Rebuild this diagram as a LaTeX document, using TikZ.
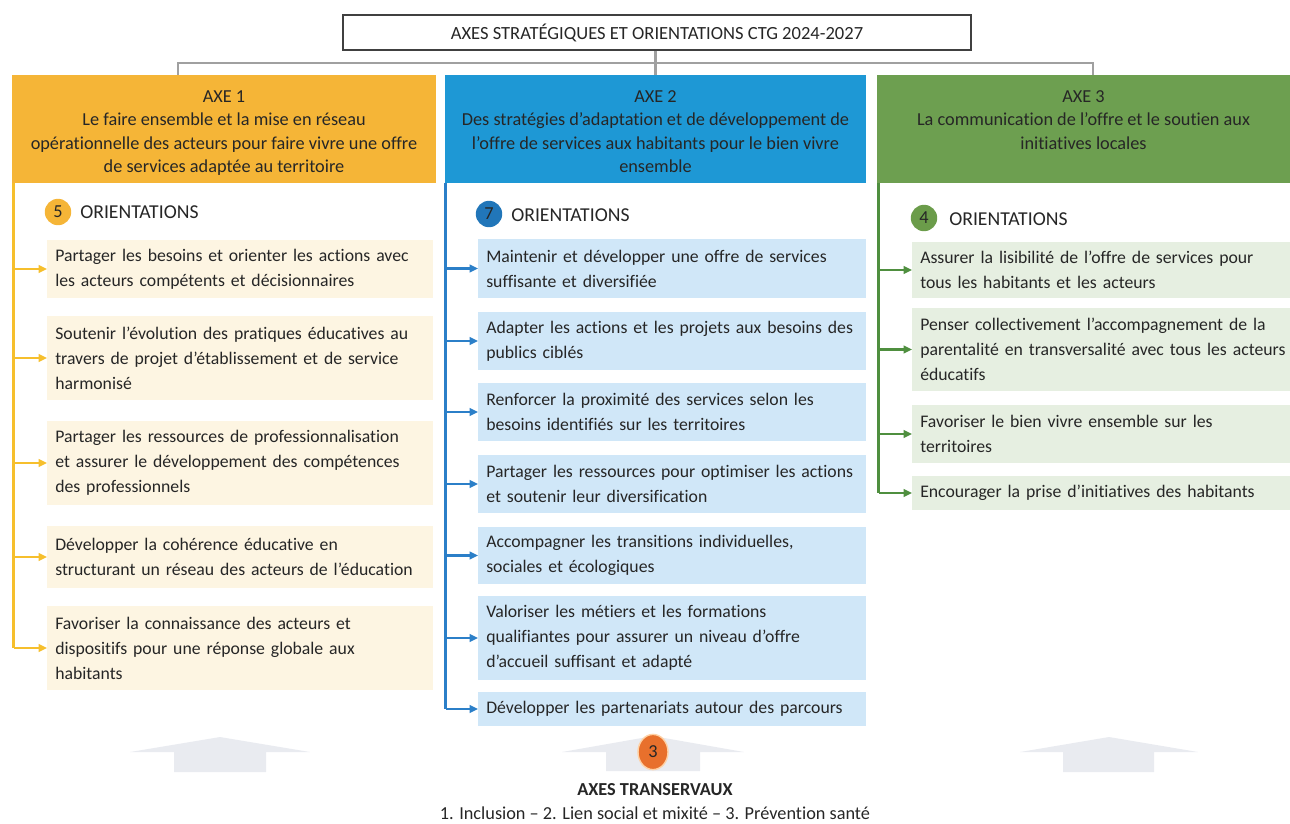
\documentclass[tikz,border=0pt]{standalone}
\usepackage{fontspec}
\setmainfont{Carlito}[Ligatures=NoCommon]
\usetikzlibrary{arrows.meta,shapes.geometric}

\definecolor{jaune}{HTML}{F5B537}
\definecolor{bleu}{HTML}{1E98D5}
\definecolor{vert}{HTML}{6D9F50}
\definecolor{jauneclair}{HTML}{FDF5E2}
\definecolor{bleuclair}{HTML}{D0E7F8}
\definecolor{vertclair}{HTML}{E6EFE1}
\definecolor{traitjaune}{HTML}{F6BF2C}
\definecolor{traitbleu}{HTML}{2B7FC8}
\definecolor{traitvert}{HTML}{4F8F3F}
\definecolor{rondbleu}{HTML}{2176B9}
\definecolor{rondvert}{HTML}{6B9C4A}
\definecolor{rondorange}{HTML}{E8702C}
\definecolor{gris}{HTML}{A0A0A0}
\definecolor{flechegris}{HTML}{E9EBF0}
\definecolor{texte}{HTML}{262626}

\newcommand\txtitem{\fontsize{12.6}{17.8}\selectfont\hyphenpenalty=10000}
\newcommand\txtaxe{\fontsize{13}{16.7}\selectfont}

\tikzset{
  axe/.style={minimum height=2.7cm, inner sep=0pt},
  axetxt/.style={anchor=north, align=center, inner sep=0pt, font=\txtaxe, text=texte},
  orient/.style={anchor=west, inner xsep=0.2cm, inner ysep=0pt, align=left, font=\txtitem, text=texte},
  rond/.style={circle, minimum size=0.66cm, inner sep=0pt, font=\fontsize{13}{15}\selectfont, text=texte},
  nbtxt/.style={anchor=west, inner sep=0pt, font=\fontsize{14}{16}\selectfont, text=texte},
  lien/.style={draw=gris, line width=2pt},
  tronc/.style={line width=2.1pt},
  fleche/.style={line width=1.6pt, -{Triangle[length=6pt,width=5.5pt]}},
}

\begin{document}
\begin{tikzpicture}[x=0.025cm, y=-0.025cm]
  \useasboundingbox (0,0) rectangle (1290,823);

  \node[draw=black!75, line width=0.9pt, minimum width=15.7cm, minimum height=0.875cm,
        font=\fontsize{13.2}{15}\selectfont, text=texte] (titre) at (657,32.5)
        {AXES STRATÉGIQUES ET ORIENTATIONS CTG 2024-2027};

  \node[axe, fill=jaune, minimum width=10.6cm] (axe1) at (224,129) {};
  \node[axe, fill=bleu, minimum width=10.525cm] (axe2) at (655.5,129) {};
  \node[axe, fill=vert, minimum width=10.325cm] (axe3) at (1083.5,129) {};

  \node[axetxt] (axe1txt) at (224,90) {AXE 1\\Le faire ensemble et la mise en réseau\\opérationnelle des acteurs pour faire vivre une offre\\de services adaptée au territoire};
  \node[axetxt] (axe2txt) at (655.5,90) {AXE 2\\Des stratégies d’adaptation et de développement de\\l’offre de services aux habitants pour le bien vivre\\ensemble};
  \node[axetxt] (axe3txt) at (1083.5,90) {AXE 3\\La communication de l’offre et le soutien aux\\initiatives locales};

  \coordinate (j1) at (178,63);
  \coordinate (j3) at (1093,63);
  \draw[lien] (axe2.north |- titre.south) -- (axe2.north);
  \draw[lien] (j1 |- axe1.north) -- (j1) -- (j3) -- (j3 |- axe3.north);

  \node[rond, fill=jaune] (n1) at (58,212) {5};
  \node[nbtxt] (o1) at (80,212) {ORIENTATIONS};
  \node[rond, fill=rondbleu] (n2) at (489,214) {7};
  \node[nbtxt] (o2) at (511,215) {ORIENTATIONS};
  \node[rond, fill=rondvert] (n3) at (924,218) {4};
  \node[nbtxt] (o3) at (949,219) {ORIENTATIONS};

  \node[orient, fill=jauneclair, text width=9.25cm, minimum height=1.45cm] (a11) at (47,269) {Partager les besoins et orienter les actions avec\\les acteurs compétents et décisionnaires};
  \node[orient, fill=jauneclair, text width=9.25cm, minimum height=2.1cm] (a12) at (47,358) {Soutenir l’évolution des pratiques éducatives au\\travers de projet d’établissement et de service\\harmonisé};
  \node[orient, fill=jauneclair, text width=9.25cm, minimum height=2.1cm] (a13) at (47,463) {Partager les ressources de professionnalisation\\et assurer le développement des compétences\\des professionnels};
  \node[orient, fill=jauneclair, text width=9.25cm, minimum height=1.55cm] (a14) at (47,557) {Développer la cohérence éducative en\\structurant un réseau des acteurs de l’éducation};
  \node[orient, fill=jauneclair, text width=9.25cm, minimum height=2.1cm] (a15) at (47,648) {Favoriser la connaissance des acteurs et\\dispositifs pour une réponse globale aux\\habitants};

  \node[orient, fill=bleuclair, text width=9.3cm, minimum height=1.475cm] (a21) at (478,268.5) {Maintenir et développer une offre de services\\suffisante et diversifiée};
  \node[orient, fill=bleuclair, text width=9.3cm, minimum height=1.45cm] (a22) at (478,341) {Adapter les actions et les projets aux besoins des\\publics ciblés};
  \node[orient, fill=bleuclair, text width=9.3cm, minimum height=1.45cm] (a23) at (478,412) {Renforcer la proximité des services selon les\\besoins identifiés sur les territoires};
  \node[orient, fill=bleuclair, text width=9.3cm, minimum height=1.45cm] (a24) at (478,484) {Partager les ressources pour optimiser les actions\\et soutenir leur diversification};
  \node[orient, fill=bleuclair, text width=9.3cm, minimum height=1.425cm] (a25) at (478,555.5) {Accompagner les transitions individuelles,\\sociales et écologiques};
  \node[orient, fill=bleuclair, text width=9.3cm, minimum height=2.1cm] (a26) at (478,638) {Valoriser les métiers et les formations\\qualifiantes pour assurer un niveau d’offre\\d’accueil suffisant et adapté};
  \node[orient, fill=bleuclair, text width=9.3cm, minimum height=0.85cm] (a27) at (478,709) {Développer les partenariats autour des parcours};

  \node[orient, fill=vertclair, text width=9.4cm, minimum height=1.4cm] (a31) at (912,270) {Assurer la lisibilité de l’offre de services pour\\tous les habitants et les acteurs};
  \node[orient, fill=vertclair, text width=9.4cm, minimum height=2.075cm] (a32) at (912,349.5) {Penser collectivement l’accompagnement de la\\parentalité en transversalité avec tous les acteurs\\éducatifs};
  \node[orient, fill=vertclair, text width=9.4cm, minimum height=1.45cm] (a33) at (912,434) {Favoriser le bien vivre ensemble sur les\\territoires};
  \node[orient, fill=vertclair, text width=9.4cm, minimum height=0.85cm] (a34) at (912,493) {Encourager la prise d’initiatives des habitants};

  \coordinate (t1) at (13.5,183);
  \coordinate (t2) at (445.5,183);
  \coordinate (t3) at (878.5,183);

  \draw[tronc, traitjaune] (t1) -- (t1 |- a15.west);
  \draw[fleche, traitjaune] (t1 |- a11.west) -- (a11.west);
  \draw[fleche, traitjaune] (t1 |- a12.west) -- (a12.west);
  \draw[fleche, traitjaune] (t1 |- a13.west) -- (a13.west);
  \draw[fleche, traitjaune] (t1 |- a14.west) -- (a14.west);
  \draw[fleche, traitjaune] (t1 |- a15.west) -- (a15.west);

  \draw[tronc, traitbleu] (t2) -- (t2 |- a27.west);
  \draw[fleche, traitbleu] (t2 |- a21.west) -- (a21.west);
  \draw[fleche, traitbleu] (t2 |- a22.west) -- (a22.west);
  \draw[fleche, traitbleu] (t2 |- a23.west) -- (a23.west);
  \draw[fleche, traitbleu] (t2 |- a24.west) -- (a24.west);
  \draw[fleche, traitbleu] (t2 |- a25.west) -- (a25.west);
  \draw[fleche, traitbleu] (t2 |- a26.west) -- (a26.west);
  \draw[fleche, traitbleu] (t2 |- a27.west) -- (a27.west);

  \draw[tronc, traitvert] (t3) -- (t3 |- a34.west);
  \draw[fleche, traitvert] (t3 |- a31.west) -- (a31.west);
  \draw[fleche, traitvert] (t3 |- a32.west) -- (a32.west);
  \draw[fleche, traitvert] (t3 |- a33.west) -- (a33.west);
  \draw[fleche, traitvert] (t3 |- a34.west) -- (a34.west);

  \fill[flechegris] (130,752) -- (220,737) -- (310,752) -- (266,752) -- (266,772) -- (174,772) -- (174,752) -- cycle;
  \fill[flechegris] (562,752) -- (653,736) -- (744,752) -- (700,752) -- (700,771) -- (606,771) -- (606,752) -- cycle;
  \fill[flechegris] (1020,752) -- (1109,737) -- (1198,752) -- (1154,752) -- (1154,772) -- (1063,772) -- (1063,752) -- cycle;

  \node[ellipse, fill=rondorange, draw=orange!35, line width=1pt, minimum width=0.75cm,
        minimum height=0.88cm, inner sep=0pt, font=\fontsize{13}{15}\selectfont, text=texte] (trois) at (653,752) {3};
  \node[font=\bfseries\fontsize{13}{15}\selectfont, text=texte] (transv) at (655,790) {AXES TRANSERVAUX};
  \node[font=\fontsize{13}{15}\selectfont, text=texte] (liste) at (655,813) {1. Inclusion – 2. Lien social et mixité – 3. Prévention santé};
\end{tikzpicture}
\end{document}
